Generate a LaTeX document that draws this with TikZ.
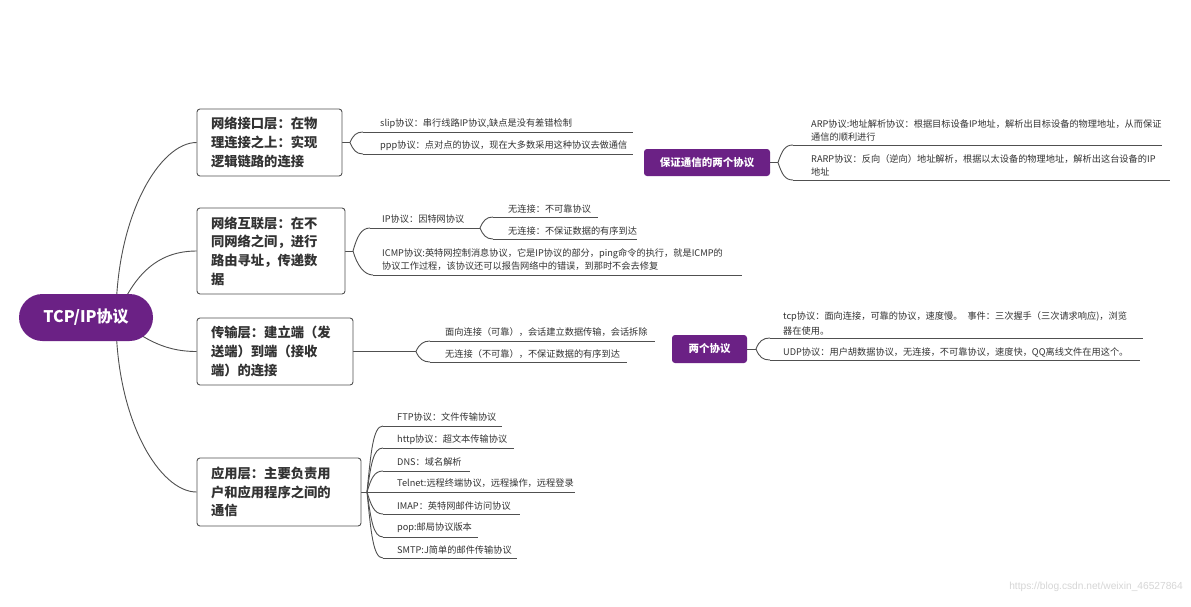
\documentclass[tikz,border=0pt]{standalone}
\usepackage{fontspec}
\setmainfont{Noto Sans CJK SC}
\newfontfamily\cjk{Noto Sans CJK SC}
\newfontfamily\wmfont{Liberation Sans}
\usetikzlibrary{backgrounds,calc}
\definecolor{purp}{HTML}{6B2185}
\definecolor{lgray}{HTML}{505050}
\definecolor{tgray}{HTML}{333333}
\definecolor{wgray}{HTML}{D6D6D6}
\newcommand\brn[4]{\draw[link] (#1) .. controls +(#3) and +(#4) .. (#2);}
\begin{document}
\begin{tikzpicture}[x=1pt,y=-1pt,
  link/.style={draw=lgray,line width=0.9pt},
  rootnode/.style={fill=purp,rounded corners=23.5pt,minimum width=134pt,minimum height=47pt,inner sep=0pt,text=white,font=\cjk\bfseries\fontsize{16}{18}\selectfont},
  layer/.style={draw=lgray,line width=0.9pt,rounded corners=3pt,fill=white,inner sep=0pt,align=left,text=tgray,font=\cjk\bfseries\fontsize{13.3}{18.6}\selectfont},
  subbox/.style={fill=purp,rounded corners=3pt,inner sep=0pt,text=white,font=\cjk\bfseries\fontsize{10.5}{12}\selectfont},
  lbl/.style={anchor=west,inner sep=0pt,align=left,text=tgray,font=\cjk\fontsize{9.2}{13}\selectfont},
]
\useasboundingbox (0,0) rectangle (1191,606);

% main nodes
\node[rootnode] (root) at (86,317.5) {TCP/IP协议};
\node[layer,minimum width=145pt,minimum height=67pt,text width=117pt] (l1) at (269.5,142.5)
  {网络接口层：在物\\理连接之上：实现\\逻辑链路的连接};
\node[layer,minimum width=148pt,minimum height=86pt,text width=120pt] (l2) at (271,251)
  {网络互联层：在不\\同网络之间，进行\\路由寻址，传递数\\据};
\node[layer,minimum width=156pt,minimum height=67pt,text width=128pt] (l3) at (275,351.5)
  {传输层：建立端（发\\送端）到端（接收\\端）的连接};
\node[layer,minimum width=164pt,minimum height=68pt,text width=136pt] (l4) at (279,492)
  {应用层：主要负责用\\户和应用程序之间的\\通信};
\node[subbox,minimum width=126pt,minimum height=27pt] (p1) at (707,162.5) {保证通信的两个协议};
\node[subbox,minimum width=75pt,minimum height=28pt] (p2) at (709.5,349) {两个协议};

% coordinates
\coordinate (rs) at (116,318);
\coordinate (j1) at (350,142.5);
\coordinate (s1a) at (363,132);  \coordinate (e1a) at (633,132);
\coordinate (s1b) at (363,154);  \coordinate (e1b) at (633,154);
\coordinate (jp1) at (778,162.5);
\coordinate (sARP) at (793,145); \coordinate (eARP) at (1162,145);
\coordinate (sRARP) at (793,180); \coordinate (eRARP) at (1170,180);
\coordinate (j2) at (353,251);
\coordinate (sIP) at (370,228); \coordinate (eIP) at (480,228);
\coordinate (sICMP) at (373,275); \coordinate (eICMP) at (742,275);
\coordinate (sN1) at (493,217); \coordinate (eN1) at (598,217);
\coordinate (sN2) at (493,239); \coordinate (eN2) at (637,239);
\coordinate (j3) at (416,351.5);
\coordinate (sC1) at (430,341); \coordinate (eC1) at (655,341);
\coordinate (sC2) at (430,362); \coordinate (eC2) at (627,362);
\coordinate (jp2) at (756,349);
\coordinate (sTCP) at (770,338); \coordinate (eTCP) at (1143,338);
\coordinate (sUDP) at (770,360); \coordinate (eUDP) at (1140,360);
\coordinate (j4) at (367,492);
\coordinate (sA1) at (383,426); \coordinate (eA1) at (502,426);
\coordinate (sA2) at (383,448); \coordinate (eA2) at (514,448);
\coordinate (sA3) at (383,471); \coordinate (eA3) at (470,471);
\coordinate (eA4) at (575,492);
\coordinate (sA5) at (383,514); \coordinate (eA5) at (520,514);
\coordinate (sA6) at (383,537); \coordinate (eA6) at (478,537);
\coordinate (sA7) at (383,558); \coordinate (eA7) at (517,558);

% labels
\node[lbl] (tslip) at (380,124) {slip协议：串行线路IP协议,缺点是没有差错检制};
\node[lbl] (tppp) at (380,146) {ppp协议：点对点的协议，现在大多数采用这种协议去做通信};
\node[lbl] (tARP) at (811,130) {ARP协议:地址解析协议：根据目标设备IP地址，解析出目标设备的物理地址，从而保证\\通信的顺利进行};
\node[lbl] (tRARP) at (811,165.5) {RARP协议：反向（逆向）地址解析，根据以太设备的物理地址，解析出这台设备的IP\\地址};
\node[lbl] (tIP) at (382,219) {IP协议：因特网协议};
\node[lbl] (tN1) at (508,209) {无连接：不可靠协议};
\node[lbl] (tN2) at (508,231) {无连接：不保证数据的有序到达};
\node[lbl] (tICMP) at (382,259.5) {ICMP协议:英特网控制消息协议，它是IP协议的部分，ping命令的执行，就是ICMP的\\协议工作过程，该协议还可以报告网络中的错误，到那时不会去修复};
\node[lbl] (tC1) at (445,332) {面向连接（可靠），会话建立数据传输，会话拆除};
\node[lbl] (tC2) at (445,354) {无连接（不可靠），不保证数据的有序到达};
\node[lbl,font=\cjk\fontsize{9.2}{15}\selectfont] (tTCP) at (783,323.5) {tcp协议：面向连接，可靠的协议，速度慢。\hspace{5pt}事件：三次握手（三次请求响应)，浏览\\器在使用。};
\node[lbl] (tUDP) at (783,352) {UDP协议：用户胡数据协议，无连接，不可靠协议，速度快，QQ离线文件在用这个。};
\node[lbl] (tA1) at (397,417) {FTP协议：文件传输协议};
\node[lbl] (tA2) at (397,440) {http协议：超文本传输协议};
\node[lbl] (tA3) at (397,462) {DNS：域名解析};
\node[lbl] (tA4) at (397,483) {Telnet:远程终端协议，远程操作，远程登录};
\node[lbl] (tA5) at (397,506) {IMAP：英特网邮件访问协议};
\node[lbl] (tA6) at (397,528) {pop:邮局协议版本};
\node[lbl] (tA7) at (397,550) {SMTP:J简单的邮件传输协议};

\node[anchor=east,inner sep=0pt,text=wgray,font=\wmfont\fontsize{10.2}{12}\selectfont] (wm) at (1183,587) {https://blog.csdn.net/weixin\_46527864};

\begin{pgfonlayer}{background}
\fill[white] (0,0) rectangle (1191,606);
% root connectors
\draw[link] (rs) .. controls (116,215) and (160,142.5) .. (l1.west);
\draw[link] (rs) .. controls (130,285) and (150,251) .. (l2.west);
\draw[link] (rs) .. controls (140,335) and (160,351.5) .. (l3.west);
\draw[link] (rs) .. controls (116,421) and (160,492) .. (l4.west);
% layer 1
\draw[link] (l1.east) -- (j1);
\brn{j1}{s1a}{3,-7}{-7,0} \draw[link] (s1a) -- (e1a);
\brn{j1}{s1b}{3,7}{-7,0}  \draw[link] (s1b) -- (e1b);
% floating topic 1
\draw[link] (p1.east) -- (jp1);
\brn{jp1}{sARP}{4,-12}{-8,0} \draw[link] (sARP) -- (eARP);
\brn{jp1}{sRARP}{4,12}{-8,0} \draw[link] (sRARP) -- (eRARP);
% layer 2
\draw[link] (l2.east) -- (j2);
\brn{j2}{sIP}{4,-14}{-9,0} \draw[link] (sIP) -- (eIP);
\brn{j2}{sICMP}{4,14}{-9,0} \draw[link] (sICMP) -- (eICMP);
\brn{eIP}{sN1}{3,-7}{-7,0} \draw[link] (sN1) -- (eN1);
\brn{eIP}{sN2}{3,7}{-7,0} \draw[link] (sN2) -- (eN2);
% layer 3
\draw[link] (l3.east) -- (j3);
\brn{j3}{sC1}{3,-7}{-7,0} \draw[link] (sC1) -- (eC1);
\brn{j3}{sC2}{3,7}{-7,0} \draw[link] (sC2) -- (eC2);
% floating topic 2
\draw[link] (p2.east) -- (jp2);
\brn{jp2}{sTCP}{3,-8}{-7,0} \draw[link] (sTCP) -- (eTCP);
\brn{jp2}{sUDP}{3,8}{-7,0} \draw[link] (sUDP) -- (eUDP);
% layer 4
\draw[link] (l4.east) -- (j4) -- (eA4);
\brn{j4}{sA1}{4,-40}{-10,0} \draw[link] (sA1) -- (eA1);
\brn{j4}{sA2}{4,-27}{-10,0} \draw[link] (sA2) -- (eA2);
\brn{j4}{sA3}{4,-13}{-9,0}  \draw[link] (sA3) -- (eA3);
\brn{j4}{sA5}{4,13}{-9,0}   \draw[link] (sA5) -- (eA5);
\brn{j4}{sA6}{4,27}{-10,0}  \draw[link] (sA6) -- (eA6);
\brn{j4}{sA7}{4,40}{-10,0}  \draw[link] (sA7) -- (eA7);
\end{pgfonlayer}
\end{tikzpicture}
\end{document}
